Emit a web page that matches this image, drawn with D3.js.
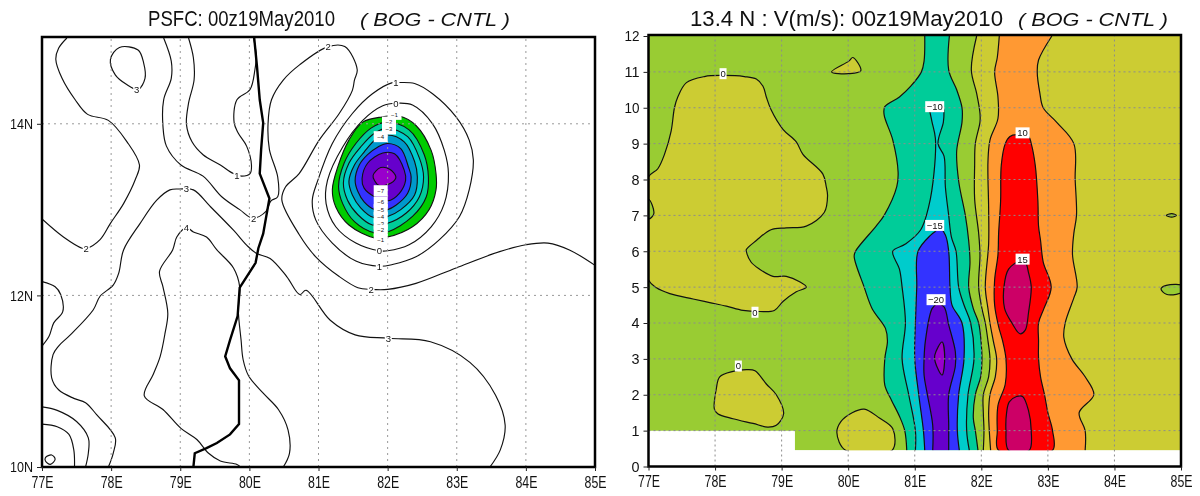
<!DOCTYPE html>
<html>
<head>
<meta charset="utf-8">
<script src="https://cdn.jsdelivr.net/npm/d3@7"></script>
<style>
  html, body { margin: 0; padding: 0; background: #fff; }
  svg { display: block; filter: blur(0.4px); }
  text { font-family: "Liberation Sans", sans-serif; fill: #111; }
</style>
</head>
<body>
<svg id="chart" width="1200" height="496"></svg>
<script>
// --- Axis values ---
const LON_TICKS = [77, 78, 79, 80, 81, 82, 83, 84, 85];
const LAT_TICKS = [10, 12, 14];
const LEVEL_TICKS = [0, 1, 2, 3, 4, 5, 6, 7, 8, 9, 10, 11, 12];

// --- Left panel: PSFC difference contours [lon, lat] ---
const coast = [[80.07,15],[80.11,14.67],[80.15,14.28],[80.2,14.01],[80.17,13.7],[80.15,13.42],[80.29,13.13],[80.2,12.72],[80.13,12.55],[80.09,12.38],[79.86,12.09],[79.83,11.76],[79.72,11.48],[79.65,11.29],[79.72,11.15],[79.85,11.01],[79.85,10.5],[79.72,10.38],[79.53,10.28],[79.38,10.22],[79.21,10.16],[79.19,10]];

const psfcOpen = [
  // 2, far left
  [[77.36,15],[77.24,14.88],[77.2,14.75],[77.29,14.53],[77.48,14.28],[77.66,14.11],[77.96,14.04],[78.23,13.79],[78.41,13.52],[78.35,13.35],[78.18,13.07],[77.99,12.84],[77.84,12.65],[77.65,12.55],[77.58,12.55],[77.31,12.68],[77,12.89]],
  // 2, wraps the low
  [[78.76,15],[78.87,14.73],[78.87,14.53],[78.76,14.28],[78.75,13.97],[78.8,13.74],[79.01,13.52],[79.33,13.39],[79.6,13.15],[79.86,13],[80.05,12.9],[80.24,12.98],[80.31,13.1],[80.41,13.15],[80.41,13.38],[80.29,13.7],[80.27,14],[80.32,14.28],[80.49,14.51],[80.73,14.69],[81.14,14.9],[81.38,14.9],[81.56,14.63],[81.52,14.51],[81.49,14.39],[81.3,14.12],[81.01,13.81],[80.72,13.42],[80.52,13.26],[80.47,13.11],[80.72,12.71],[80.96,12.45],[81.3,12.22],[81.57,12.09],[81.76,12.07],[82,12.07],[82.41,12.14],[82.99,12.32],[83.62,12.51],[84,12.59],[84.32,12.61],[84.63,12.53],[85,12.35]],
  // 1, west of the coast
  [[79.12,15],[79.19,14.77],[79.2,14.51],[79.12,14.24],[79.09,13.99],[79.17,13.79],[79.33,13.64],[79.58,13.52],[79.77,13.42],[79.89,13.39],[80.01,13.42],[80.03,13.52],[79.96,13.74],[79.84,13.89],[79.78,14.01],[79.82,14.28],[80.01,14.4],[80.08,14.63],[80.1,14.79],[80.06,15]],
  // 3
  [[77.96,10],[78.03,10.16],[78.06,10.34],[77.79,10.61],[77.63,10.75],[77.46,10.8],[77.24,10.9],[77.14,11.04],[77.16,11.31],[77.24,11.41],[77.41,11.54],[77.74,11.83],[77.84,11.99],[78.03,12.12],[78.11,12.26],[78.18,12.53],[78.42,12.84],[78.66,13.11],[78.85,13.23],[78.99,13.24],[79.19,13.23],[79.43,13.04],[79.77,12.76],[79.98,12.57],[80.1,12.49],[80.3,12.43],[80.54,12.22],[80.73,12.01],[80.82,12.06],[81.17,11.71],[81.53,11.54],[82.01,11.5],[82.62,11.46],[83.19,11.22],[83.56,10.84],[83.7,10.49],[83.63,10.2],[83.48,10]],
  // 4
  [[79.87,10],[79.82,10.03],[79.58,10.07],[79.41,10.16],[79.24,10.32],[79.01,10.45],[78.75,10.67],[78.48,10.83],[78.61,11.08],[78.71,11.29],[78.78,11.56],[78.82,11.79],[78.75,12.1],[78.7,12.28],[78.89,12.53],[78.95,12.68],[79.09,12.79],[79.19,12.74],[79.38,12.68],[79.53,12.53],[79.77,12.32],[79.86,12.1],[79.84,11.83],[79.88,11.48],[79.91,11.25],[79.99,11.06],[80.2,10.86],[80.42,10.67],[80.56,10.43],[80.58,10.16],[80.49,10]],
  // west edge, around 12N
  [[77,12.16],[77.19,12.1],[77.27,12.01],[77.3,11.81],[77.17,11.68],[77.1,11.52],[77,11.41]],
  // southwest corner
  [[77,10.7],[77.22,10.66],[77.5,10.53],[77.67,10.34],[77.67,10.16],[77.63,10]],
  [[77,10.5],[77.22,10.47],[77.39,10.38],[77.46,10.2],[77.47,10]]
];

const psfcClosed = [
  // 3, top left
  [[77.99,14.75],[78.12,14.89],[78.39,14.86],[78.47,14.71],[78.49,14.53],[78.39,14.4],[78.22,14.46],[78.06,14.57]],
  // southwest corner
  [[77.05,10.11],[77.14,10.14],[77.19,10.09],[77.12,10.03],[77.05,10.07]],
  // +1
  [[82.12,14.48],[82.39,14.47],[82.65,14.35],[82.99,14.08],[83.18,13.81],[83.24,13.58],[83.18,13.23],[83.04,12.92],[82.75,12.65],[82.41,12.45],[82.07,12.36],[81.88,12.34],[81.54,12.4],[81.2,12.61],[80.96,12.88],[80.91,13.11],[80.99,13.34],[81.2,13.77],[81.49,14.12],[81.78,14.35],[82.07,14.48]],
  // 0
  [[82.12,14.24],[82.36,14.22],[82.65,14],[82.82,13.69],[82.88,13.42],[82.82,13.07],[82.63,12.8],[82.31,12.59],[82,12.52],[81.88,12.52],[81.54,12.61],[81.25,12.8],[81.11,13.07],[81.13,13.34],[81.35,13.73],[81.64,14.04],[81.93,14.21]]
];

// shaded rings of the low, outermost first
const ringLevels = [-1, -2, -3, -4, -5, -6, -7];
const ringColors = ["#00cc00", "#00cc99", "#00cccc", "#0099cc", "#3333ff", "#6600cc", "#9900cc"];
const psfcRings = [
  [[82.17,14.09],[82.41,13.98],[82.63,13.69],[82.7,13.42],[82.7,13.23],[82.6,13],[82.36,12.8],[82,12.68],[81.81,12.67],[81.44,12.82],[81.25,13.03],[81.2,13.23],[81.28,13.5],[81.44,13.81],[81.64,14.02],[81.92,14.08]],
  [[81.99,14.02],[82.31,13.93],[82.53,13.64],[82.59,13.38],[82.56,13.15],[82.36,12.92],[82,12.74],[81.81,12.73],[81.52,12.86],[81.35,13.07],[81.29,13.27],[81.37,13.54],[81.54,13.77],[81.76,13.95]],
  [[82,13.95],[82.29,13.85],[82.46,13.6],[82.52,13.38],[82.46,13.15],[82.27,12.96],[82,12.84],[81.78,12.82],[81.57,12.94],[81.42,13.11],[81.36,13.31],[81.44,13.54],[81.61,13.73],[81.81,13.89]],
  [[82,13.87],[82.24,13.79],[82.39,13.56],[82.43,13.38],[82.39,13.17],[82.19,13],[82,12.92],[81.79,12.91],[81.61,13.02],[81.49,13.17],[81.44,13.33],[81.52,13.52],[81.66,13.67],[81.83,13.82]],
  [[82,13.77],[82.19,13.71],[82.3,13.5],[82.34,13.38],[82.29,13.19],[82.12,13.05],[82,13],[81.81,13],[81.66,13.09],[81.57,13.21],[81.53,13.34],[81.59,13.52],[81.71,13.64],[81.86,13.73]],
  [[81.93,13.66],[82.1,13.65],[82.24,13.46],[82.26,13.34],[82.17,13.19],[82,13.1],[81.81,13.15],[81.66,13.25],[81.63,13.36],[81.71,13.54]],
  [[81.9,13.49],[82.03,13.47],[82.12,13.38],[82.05,13.31],[81.88,13.28],[81.81,13.34],[81.79,13.4]]
];

const psfcLabels = [
  ["3",78.37,14.4],["1",79.82,13.4],["3",79.09,13.25],["2",80.06,12.9],["4",79.09,12.79],["2",77.64,12.55],["2",81.14,14.9],["3",82.01,11.5],
  ["1",82.12,14.48],["0",82.12,14.24],["0",81.88,12.52],["1",81.88,12.34],["2",81.76,12.07]
];
// the labels stacked on the low sit closer together
const psfcStackLabels = [
  ["−1",82.1,14.11],["−2",82.02,14.02],["−3",82.02,13.94],["−4",81.9,13.85],
  ["−7",81.9,13.22],["−6",81.9,13.09],["−5",81.9,13],["−4",81.9,12.91],["−3",81.9,12.83],["−2",81.9,12.76],["−1",81.9,12.65]
];

// --- Right panel: V cross-section boundaries [lon, level], top to bottom ---
const domainEdge = [[77,12],[85,12],[85,0.45],[79.2,0.45],[79.2,1],[77,1]];

const oliveLeft = [[81.93,12],[81.85,11.05],[81.93,10.4],[81.98,9.85],[81.98,9.6],[81.91,9],[81.9,8.4],[81.9,7.45],[81.96,6.5],[81.98,5.9],[81.96,5],[82.01,4.4],[82.06,4],[82.1,3.5],[82.13,3],[82.11,2.5],[82.03,2],[82.03,1.5],[82.04,1],[82.03,0.45]];
const eastEdge = [[85,12],[85,0.45]];
const orangeLeft = [[82.27,12],[82.24,11.4],[82.2,11],[82.25,10.3],[82.25,9.7],[82.13,9.1],[82.1,8.5],[82.11,7.2],[82.11,6.2],[82.06,5],[82.1,4.4],[82.13,4],[82.18,3.5],[82.23,3],[82.21,2.5],[82.13,2],[82.11,1.5],[82.12,1],[82.14,0.45]];
const orangeRight = [[83.06,12],[82.86,11.33],[82.84,11],[82.88,10.4],[82.93,10],[83.13,9.6],[83.39,9],[83.41,8],[83.43,7],[83.39,6.5],[83.37,5.9],[83.44,5],[83.39,4.7],[83.26,4],[83.24,3.6],[83.36,3],[83.56,2.5],[83.69,2],[83.47,1.5],[83.56,1],[83.56,0.45]];
const redEdge = [[82.26,0.45],[82.24,1],[82.25,1.7],[82.36,2.3],[82.37,3],[82.32,3.5],[82.26,3.9],[82.2,4.5],[82.2,5.2],[82.25,5.9],[82.26,6.5],[82.29,7.4],[82.3,8.4],[82.36,9],[82.43,9.2],[82.53,9.25],[82.71,9.2],[82.75,9],[82.81,8.4],[82.85,7.4],[82.86,6.7],[82.89,6.3],[82.93,5.7],[83.05,5],[82.94,4.4],[82.86,4],[82.86,3.5],[82.86,3],[82.89,2.5],[82.95,2],[83,1.5],[83.07,1],[83.07,0.45]];
const crimsonUpper = [[82.58,5.73],[82.41,5.5],[82.34,5],[82.35,4.4],[82.46,4],[82.58,3.7],[82.66,3.8],[82.71,4.3],[82.75,5],[82.71,5.4],[82.66,5.7]];
const crimsonLower = [[82.41,0.45],[82.37,1],[82.38,1.5],[82.42,1.8],[82.53,1.95],[82.62,1.95],[82.71,1.55],[82.75,1],[82.72,0.45]];

const tealLeft = [[81.15,12],[81.14,11.3],[81.1,11],[80.94,10.6],[80.77,10.3],[80.55,10.03],[80.54,9.8],[80.67,9.1],[80.75,8.2],[80.73,7.8],[80.54,7],[80.42,6.7],[80.11,6],[80.09,5.85],[80.24,5],[80.36,4.4],[80.56,3.85],[80.59,3.5],[80.55,3],[80.55,2.27],[80.65,1.85],[80.77,1.4],[80.85,1],[80.88,0.45]];
const tealRight = [[81.52,12],[81.51,11.05],[81.63,10.5],[81.71,10],[81.71,9.6],[81.63,8.8],[81.66,7.95],[81.76,7],[81.81,6.3],[81.83,5.7],[81.81,5],[81.88,4.4],[81.96,4],[82,3.4],[82.01,3],[81.99,2.5],[81.91,2],[81.88,1.35],[81.91,1],[81.95,0.45]];
const cyanLeft = [[81.22,9.95],[81.26,9.6],[81.31,9.15],[81.29,8.2],[81.21,7.25],[81.09,6.6],[80.86,6.2],[80.67,6],[80.77,5.5],[80.81,5],[80.86,4],[80.81,3],[80.91,2],[81.01,1],[81.01,0.45]];
const cyanRight = [[81.44,9.95],[81.43,9.6],[81.35,9],[81.44,8.65],[81.46,7.8],[81.51,7],[81.55,6.4],[81.62,6],[81.66,5],[81.74,4.5],[81.84,4],[81.89,3],[81.8,2],[81.78,1],[81.82,0.45]];
const blueLeft = [[81.31,6.55],[81.24,6.45],[81.05,6],[81.03,5],[81.01,4],[81,3],[81.06,2],[81.13,1],[81.15,0.45]];
const blueRight = [[81.31,6.55],[81.36,6.68],[81.46,6.45],[81.51,6],[81.53,5],[81.56,4.5],[81.71,4],[81.74,3],[81.66,2],[81.64,1],[81.67,0.45]];
const purpleLeft = [[81.34,4.55],[81.26,4.4],[81.16,3.5],[81.14,3],[81.14,2.55],[81.19,2],[81.27,1.15],[81.27,0.45]];
const purpleRight = [[81.34,4.55],[81.44,4.45],[81.51,3.95],[81.61,3.2],[81.61,2.8],[81.51,2],[81.51,1.15],[81.51,0.45]];
const magentaCore = [[81.41,3.47],[81.3,3.1],[81.31,2.9],[81.41,2.55],[81.45,3.05]];

const oliveBlobs = [
  [[77,8.07],[77.14,8.3],[77.24,8.7],[77.34,9.35],[77.39,10],[77.44,10.3],[77.57,10.7],[77.84,10.87],[78.11,10.9],[78.44,10.87],[78.62,10.8],[78.72,10.6],[78.77,10.3],[78.84,9.95],[79.02,9.4],[79.22,9.05],[79.32,8.7],[79.62,8.15],[79.67,7.8],[79.69,7.55],[79.64,7.08],[79.37,6.7],[79.07,6.65],[78.84,6.6],[78.62,6.3],[78.47,6.05],[78.47,6],[78.54,5.7],[78.67,5.5],[78.87,5.3],[79.07,5.3],[79.27,5.15],[79.37,5],[79.22,4.87],[79.02,4.6],[78.89,4.35],[78.67,4.32],[78.42,4.35],[78.17,4.47],[77.92,4.57],[77.67,4.67],[77.32,4.82],[77.12,4.98],[77,5.2],[76.9,6.6]],
  [[78.07,2.5],[78.02,2.18],[77.99,1.6],[78.04,1.47],[78.27,1.33],[78.57,1.2],[78.79,1.1],[78.92,1.15],[79.03,1.47],[78.92,2],[78.77,2.3],[78.6,2.67],[78.47,2.7],[78.27,2.65]],
  [[79.96,0.45],[79.83,0.95],[79.89,1.25],[80.06,1.5],[80.24,1.6],[80.47,1.35],[80.67,1.05],[80.66,0.45]],
  [[79.75,11],[80.01,11.3],[80.07,11.4],[80.19,11.03],[80.01,10.95]]
];
const greenBlobs = [
  [[77,7.45],[77.08,7.05],[77,6.9],[76.9,7.2]],
  [[85.05,5.03],[84.78,5.05],[84.7,4.95],[84.78,4.8],[84.93,4.8],[85.05,4.88]],
  [[84.78,7],[84.86,7.05],[84.93,7],[84.86,6.95]]
];
const vLabels = [
  ["0",78.12,10.95],["0",78.6,4.3],["0",78.35,2.8],["−10",81.3,10.03],["10",82.62,9.3],["−15",81.3,6.72],["15",82.62,5.78],["−20",81.32,4.65]
];

// --- Layout ---
const svg = d3.select("#chart");
const lineWide = d3.line().curve(d3.curveLinear);

const xL = d3.scaleLinear().domain([77, 85]).range([42, 595]);
const yL = d3.scaleLinear().domain([10, 15]).range([467, 38]);
const xR = d3.scaleLinear().domain([77, 85]).range([648.5, 1181]);
const yR = d3.scaleLinear().domain([0, 12]).range([466.5, 36]);

const defs = svg.append("defs");
function plotClip(id, x, y) {
  defs.append("clipPath").attr("id", id).append("rect")
    .attr("x", x.range()[0]).attr("y", y.range()[1] - 1)
    .attr("width", x.range()[1] - x.range()[0]).attr("height", y.range()[0] - y.range()[1] + 1);
}
plotClip("clipL", xL, yL);
plotClip("clipR", xR, yR);

function project(pts, x, y) { return pts.map(d => [x(d[0]), y(d[1])]); }
function smooth(pts, x, y, closed) {
  const curve = closed ? d3.curveCatmullRomClosed.alpha(0.5) : d3.curveCatmullRom.alpha(0.5);
  return d3.line().curve(curve)(project(pts, x, y));
}

// open boundary drawn as a single stroke
function strokeCurve(g, pts, x, y, w) {
  g.append("path").attr("d", smooth(pts, x, y, false))
    .attr("fill", "none").attr("stroke", "#111").attr("stroke-width", w);
}
function closedShape(g, pts, x, y, fill, w) {
  g.append("path").attr("d", smooth(pts, x, y, true))
    .attr("fill", fill).attr("stroke", "#111").attr("stroke-width", w);
}
// band between two top-to-bottom boundaries
function band(g, left, right, fill) {
  const a = smooth(left, xR, yR, false);
  const b = smooth(right.slice().reverse(), xR, yR, false);
  g.append("path").attr("d", a + "L" + b.slice(1) + "Z").attr("fill", fill);
  if (left !== eastEdge) strokeCurve(g, left, xR, yR, 1.2);
  if (right !== eastEdge) strokeCurve(g, right, xR, yR, 1.2);
}
function grid(g, x, y, lons, lats, color, dash) {
  const [x0, x1] = x.range(), [y0, y1] = y.range();
  g.selectAll(".vg").data(lons).join("line").attr("class", "vg")
    .attr("x1", d => x(d)).attr("x2", d => x(d)).attr("y1", y0).attr("y2", y1)
    .attr("stroke", color).attr("stroke-dasharray", dash);
  g.selectAll(".hg").data(lats).join("line").attr("class", "hg")
    .attr("x1", x0).attr("x2", x1).attr("y1", d => y(d)).attr("y2", d => y(d))
    .attr("stroke", color).attr("stroke-dasharray", dash);
}
function contourLabels(g, rows, x, y, h, size) {
  const cell = g.append("g").selectAll("g").data(rows).join("g")
    .attr("transform", d => `translate(${x(d[1])},${y(d[2])})`);
  cell.append("rect")
    .attr("x", d => d[0].length > 2 ? -9.5 : d[0].length > 1 ? -7 : -3.5)
    .attr("width", d => d[0].length > 2 ? 19 : d[0].length > 1 ? 14 : 7)
    .attr("y", -h / 2).attr("height", h).attr("fill", "#fff");
  return cell.append("text").attr("text-anchor", "middle").attr("dy", "0.36em")
    .attr("font-size", size).text(d => d[0]);
}
function axes(g, x, y, yValues, yFormat, yLabelWidth) {
  const bottom = g.append("g").attr("transform", `translate(0,${y.range()[0]})`)
    .call(d3.axisBottom(x).tickValues(LON_TICKS).tickFormat(d => d + "E").tickSize(4).tickPadding(5));
  const left = g.append("g").attr("transform", `translate(${x.range()[0]},0)`)
    .call(d3.axisLeft(y).tickValues(yValues).tickFormat(yFormat).tickSize(5).tickPadding(4));
  [bottom, left].forEach(a => {
    a.select(".domain").remove();
    a.selectAll("line").attr("stroke", "#222");
  });
  bottom.selectAll("text").attr("font-size", 16.5).attr("fill", "#222")
    .attr("textLength", 22).attr("lengthAdjust", "spacingAndGlyphs");
  left.selectAll("text").attr("font-size", 15.5).attr("fill", "#222")
    .attr("textLength", d => yLabelWidth(d)).attr("lengthAdjust", "spacingAndGlyphs");
}
function frame(g, x, y) {
  const [x0, x1] = x.range(), [y0, y1] = y.range();
  g.append("rect").attr("x", x0).attr("y", y1 - 1).attr("width", x1 - x0).attr("height", y0 - y1 + 1)
    .attr("fill", "none").attr("stroke", "#000").attr("stroke-width", 2.5);
}
function title(x, main, mainWidth, tagX, tagWidth) {
  svg.append("text").attr("x", x).attr("y", 26).attr("font-size", 21.5)
    .attr("textLength", mainWidth).attr("lengthAdjust", "spacingAndGlyphs").text(main);
  svg.append("text").attr("x", tagX).attr("y", 26).attr("font-size", 19).attr("font-style", "italic")
    .attr("textLength", tagWidth).attr("lengthAdjust", "spacingAndGlyphs").text("( BOG - CNTL )");
}

// --- Left panel ---
const gL = svg.append("g");
const plotL = gL.append("g").attr("clip-path", "url(#clipL)");
psfcRings.forEach((ring, i) => closedShape(plotL, ring, xL, yL, ringColors[i], 1.1));
psfcOpen.forEach(c => strokeCurve(plotL, c, xL, yL, 1.15));
psfcClosed.forEach(c => closedShape(plotL, c, xL, yL, "none", 1.15));
grid(plotL, xL, yL, LON_TICKS.slice(1, -1), LAT_TICKS.slice(1), "#999", "2 4");
contourLabels(plotL, psfcLabels, xL, yL, 10, 9.5);
contourLabels(plotL, psfcStackLabels, xL, yL, 11, 6);
plotL.append("path").attr("d", lineWide(project(coast, xL, yL)))
  .attr("fill", "none").attr("stroke", "#000").attr("stroke-width", 2.4);
frame(gL, xL, yL);
axes(gL, xL, yL, LAT_TICKS, d => d + "N", () => 23);
title(148, "PSFC: 00z19May2010", 187, 360, 150);

// --- Right panel ---
const gR = svg.append("g");
const plotR = gR.append("g").attr("clip-path", "url(#clipR)");
plotR.append("path").attr("d", lineWide(project(domainEdge, xR, yR)) + "Z").attr("fill", "#99cc33");
band(plotR, oliveLeft, eastEdge, "#cccc33");
band(plotR, orangeLeft, orangeRight, "#ff9933");
closedShape(plotR, redEdge, xR, yR, "#ff0000", 1.2);
closedShape(plotR, crimsonUpper, xR, yR, "#cc0066", 1.2);
closedShape(plotR, crimsonLower, xR, yR, "#cc0066", 1.2);
band(plotR, tealLeft, tealRight, "#00cc99");
band(plotR, cyanLeft, cyanRight, "#00cccc");
band(plotR, blueLeft, blueRight, "#3333ff");
band(plotR, purpleLeft, purpleRight, "#6600cc");
closedShape(plotR, magentaCore, xR, yR, "#9900cc", 1.2);
oliveBlobs.forEach(b => closedShape(plotR, b, xR, yR, "#cccc33", 1.2));
greenBlobs.forEach(b => closedShape(plotR, b, xR, yR, "#99cc33", 1.2));
// cover the strokes of closed shapes where they run along the bottom of the data
plotR.append("rect").attr("x", xR(79.2)).attr("y", yR(0.45)).attr("width", xR(85) - xR(79.2)).attr("height", yR(0) - yR(0.45)).attr("fill", "#fff");
grid(plotR, xR, yR, LON_TICKS.slice(1, -1), LEVEL_TICKS.slice(1, -1), "#8c8c8c", "2 3");
contourLabels(plotR, vLabels, xR, yR, 11, 9.5);
frame(gR, xR, yR);
axes(gR, xR, yR, LEVEL_TICKS, d => d, d => d > 9 ? 15 : 8);
title(690, "13.4 N : V(m/s): 00z19May2010", 313, 1018, 150);
</script>
</body>
</html>
